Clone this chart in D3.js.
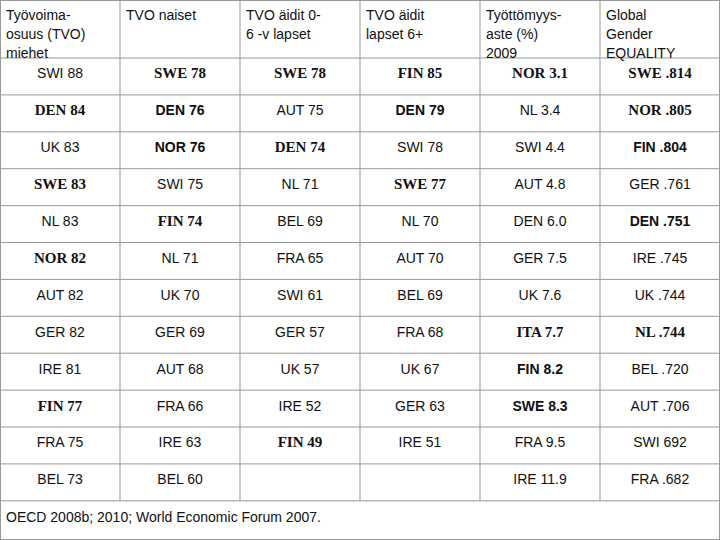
<!DOCTYPE html>
<html><head><meta charset="utf-8">
<script src="https://cdn.jsdelivr.net/npm/d3@7"></script>
<style>body{margin:0;background:#fff}</style>
</head><body><svg id="c" width="720" height="540"></svg>
<script>
// column headers (wrapped lines)
var headers = [
  ["Työvoima-", "osuus (TVO)", "miehet"],
  ["TVO naiset"],
  ["TVO äidit 0-", "6 -v  lapset"],
  ["TVO äidit", "lapset 6+"],
  ["Työttömyys-", "aste (%)", "2009"],
  ["Global", "Gender", "EQUALITY"]
];
var menTvo = ["SWI 88","DEN 84","UK 83","SWE 83","NL 83","NOR 82","AUT 82","GER 82","IRE 81","FIN 77","FRA 75","BEL 73"];
var womenTvo = ["SWE 78","DEN 76","NOR 76","SWI 75","FIN 74","NL 71","UK 70","GER 69","AUT 68","FRA 66","IRE 63","BEL 60"];
var mothersYoung = ["SWE 78","AUT 75","DEN 74","NL 71","BEL 69","FRA 65","SWI 61","GER 57","UK 57","IRE 52","FIN 49",""];
var mothersOlder = ["FIN 85","DEN 79","SWI 78","SWE 77","NL 70","AUT 70","BEL 69","FRA 68","UK 67","GER 63","IRE 51",""];
var unemployment = ["NOR 3.1","NL 3.4","SWI 4.4","AUT 4.8","DEN 6.0","GER 7.5","UK 7.6","ITA 7.7","FIN 8.2","SWE 8.3","FRA 9.5","IRE 11.9"];
var genderEquality = ["SWE .814","NOR .805","FIN .804","GER .761","DEN .751","IRE .745","UK .744","NL .744","BEL .720","AUT .706","SWI 692","FRA .682"];
var source = "OECD 2008b; 2010; World Economic Forum 2007.";

// cells set in serif bold (s) or sans bold (b), as in the original slide
var emphasis = {
  "0-1":"s","0-3":"s","0-5":"s","0-9":"s",
  "1-0":"s","1-1":"b","1-2":"b","1-4":"s",
  "2-0":"s","2-2":"s","2-10":"s",
  "3-0":"s","3-1":"b","3-3":"s",
  "4-0":"s","4-7":"s","4-8":"b","4-9":"b",
  "5-0":"s","5-1":"s","5-2":"b","5-4":"b","5-7":"s"
};

var columns = [menTvo, womenTvo, mothersYoung, mothersOlder, unemployment, genderEquality];
var svg = d3.select("#c");
var W = 720, H = 540, headH = 58, rowH = 36.9, nRows = menTvo.length;

var x = d3.scaleBand().domain(d3.range(columns.length)).range([0, W]);
var y = d3.scaleLinear().domain([0, nRows]).range([headH, headH + nRows * rowH]);
var gridColor = "#999";

// horizontal lines
var hl = [0].concat(d3.range(nRows + 1).map(function (i) { return y(i); })).concat([H - 0.5]);
svg.selectAll("line.h").data(hl).enter().append("line")
  .attr("x1", 0).attr("x2", W).attr("y1", function (d) { return Math.max(0.5, d); }).attr("y2", function (d) { return Math.max(0.5, d); })
  .attr("stroke", gridColor).attr("stroke-width", 1);
// vertical lines (stop at footer except the outer edges)
svg.selectAll("line.v").data(d3.range(columns.length + 1)).enter().append("line")
  .attr("x1", function (i) { return i == columns.length ? W - 0.5 : Math.max(0.5, i * x.bandwidth()); })
  .attr("x2", function (i) { return i == columns.length ? W - 0.5 : Math.max(0.5, i * x.bandwidth()); })
  .attr("y1", 0)
  .attr("y2", function (i) { return (i == 0 || i == columns.length) ? H : y(nRows); })
  .attr("stroke", gridColor).attr("stroke-width", 1);

// headers
headers.forEach(function (lines, c) {
  svg.append("text").attr("x", x(c) + 6).attr("y", 20)
    .style("font-family", "Liberation Sans, Arial, sans-serif").style("font-size", "14px").attr("fill", "#111")
    .selectAll("tspan").data(lines).enter().append("tspan")
    .attr("x", x(c) + 6).attr("dy", function (d, i) { return i ? 19 : 0; }).text(function (d) { return d; });
});

// body cells
columns.forEach(function (col, c) {
  svg.selectAll("text.c" + c).data(col).enter().append("text")
    .attr("x", x(c) + x.bandwidth() / 2)
    .attr("y", function (d, r) { return y(r) + rowH / 2 + 2; })
    .attr("text-anchor", "middle").attr("fill", "#111")
    .style("font-family", function (d, r) { return emphasis[c + "-" + r] == "s" ? "Liberation Serif, Times New Roman, serif" : "Liberation Sans, Arial, sans-serif"; })
    .style("font-weight", function (d, r) { return emphasis[c + "-" + r] ? "bold" : "normal"; })
    .style("font-size", function (d, r) { return emphasis[c + "-" + r] == "s" ? "15px" : "14px"; })
    .text(function (d) { return d; });
});

// source line
svg.append("text").attr("x", 6).attr("y", y(nRows) + 21)
  .style("font-family", "Liberation Sans, Arial, sans-serif").style("font-size", "14px").attr("fill", "#111")
  .text(source);
</script></body></html>
